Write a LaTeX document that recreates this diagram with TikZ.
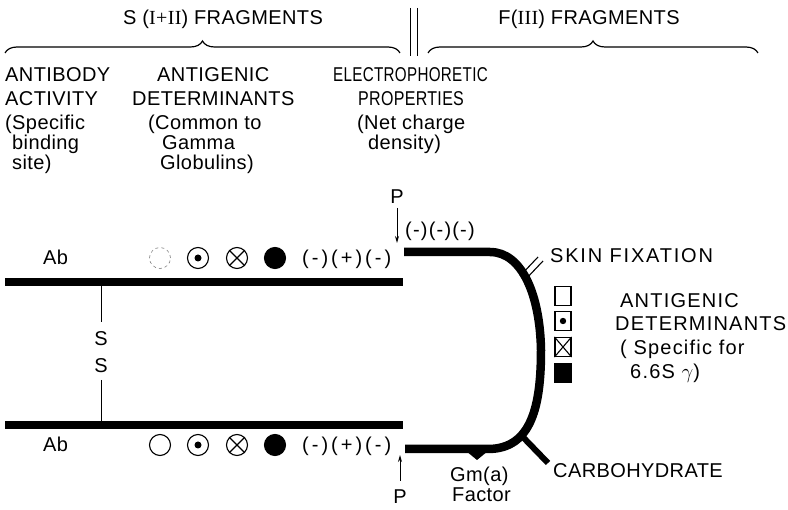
\documentclass[tikz,border=0pt]{standalone}
\usepackage{graphicx}
\usepackage{fontspec}
\setmainfont{Liberation Sans}[LetterSpace=2]
\newfontfamily\romfont{Liberation Serif}[LetterSpace=2]
\usetikzlibrary{decorations.pathreplacing,arrows.meta}
\tikzset{
  lbl/.style={font=\fontsize{20}{22}\selectfont, inner sep=0pt, anchor=base west},
  ttl/.style={font=\fontsize{20}{22}\selectfont, inner sep=0pt, anchor=base},
  chain/.style={line width=8.5pt},
  thinln/.style={line width=1pt},
  ptr/.style={line width=1pt, -{Stealth[length=7pt,width=4pt]}},
  sym/.style={circle, draw, line width=1.1pt, minimum size=21pt, inner sep=0pt},
  sq/.style={rectangle, draw, line width=1.1pt, minimum width=16pt, minimum height=19pt, inner sep=0pt},
  brc/.style={decorate, decoration={brace, amplitude=12pt}, line width=1.2pt},
}
\begin{document}
\begin{tikzpicture}[x=1pt,y=-1pt]
\useasboundingbox (0,0) rectangle (788,510);

% titles and braces
\node[ttl] (t1) at (223,25) {S ({\romfont I+II}) FRAGMENTS};
\node[ttl] (t2) at (589,25) {F({\romfont III}) FRAGMENTS};
\coordinate (b1s) at (5,53); \coordinate (b1e) at (400,53);
\coordinate (b2s) at (428,53); \coordinate (b2e) at (758,53);
\draw[brc] (b1s) -- (b1e);
\draw[brc] (b2s) -- (b2e);
\coordinate (d1a) at (410,8); \coordinate (d1b) at (410,56);
\coordinate (d2a) at (417,8); \coordinate (d2b) at (417,56);
\draw[thinln] (d1a) -- (d1b);
\draw[thinln] (d2a) -- (d2b);

% column headers
\node[lbl] (h1a) at (5,82) {ANTIBODY};
\node[lbl] (h1b) at (5,106) {ACTIVITY};
\node[lbl] (h1c) at (5,130) {(Specific};
\node[lbl] (h1d) at (12,150) {binding};
\node[lbl] (h1e) at (12,170) {site)};

\node[lbl] (h2a) at (157,82) {ANTIGENIC};
\node[lbl] (h2b) at (132,106) {DETERMINANTS};
\node[lbl] (h2c) at (148,130) {(Common to};
\node[lbl] (h2d) at (162,150) {Gamma};
\node[lbl] (h2e) at (160,170) {Globulins)};

\node[lbl] (h3a) at (333,82) {\scalebox{0.76}[1]{ELECTROPHORETIC}};
\node[lbl] (h3b) at (358,106) {\scalebox{0.8}[1]{PROPERTIES}};
\node[lbl] (h3c) at (357,130) {(Net charge};
\node[lbl] (h3d) at (368,150) {density)};

% P markers
\node[ttl] (ptop) at (397,204) {P};
\coordinate (ptopst) at (397,208);
\coordinate (ptopend) at (397,243);
\draw[ptr] (ptopst) -- (ptopend);
\node[ttl] (pbot) at (400,504) {P};
\coordinate (pbotst) at (400,481);
\coordinate (pbotend) at (400,455);
\draw[ptr] (pbotst) -- (pbotend);

% chains
\coordinate (ul) at (5,282); \coordinate (ur) at (403,282);
\coordinate (ll) at (5,425); \coordinate (lr) at (403,425);
\draw[chain] (ul) -- (ur);
\draw[chain] (ll) -- (lr);
\coordinate (ss1) at (101,282); \coordinate (ss2) at (101,322);
\coordinate (ss3) at (101,380); \coordinate (ss4) at (101,425);
\draw[thinln] (ss1) -- (ss2);
\draw[thinln] (ss3) -- (ss4);
\node[ttl] (sa) at (101,346) {S};
\node[ttl] (sb) at (101,373) {S};

% F fragment
\coordinate (fa) at (404,252);
\coordinate (fb) at (405,449);
\draw[line width=8.5pt, line join=round] (fa) -- (490,252)
  .. controls (522,252) and (540,295) .. (541,350)
  .. controls (541,405) and (532,449) .. (488,449) -- (fb);
% Gm(a) bump
\fill (466,451) -- (477,460) -- (488,451) -- cycle;
% carbohydrate
\coordinate (ca1) at (519,433); \coordinate (ca2) at (548,463);
\draw[line width=6pt] (ca1) -- (ca2);
% skin fixation marks
\draw[line width=1.1pt] (520,276) -- (538,257);
\draw[line width=1.1pt] (525,280) -- (543,261);

\node[lbl, font=\fontsize{20}{22}\selectfont\addfontfeature{LetterSpace=6}] (ppp) at (405,237) {(-)(-)(-)};
\node[lbl, font=\fontsize{20}{22}\selectfont\addfontfeature{LetterSpace=9}] (skin) at (550,263) {SKIN FIXATION};
\node[lbl] (gm) at (450,482) {Gm(a)};
\node[lbl] (fac) at (452,502) {Factor};
\node[lbl] (carb) at (553,478) {CARBOHYDRATE};

% top row symbols
\node[lbl] (ab1) at (43,265) {Ab};
\node[sym, dashed, draw=gray, line width=0.6pt] (c1) at (160,258) {};
\node[sym] (c2) at (198,258) {};
\fill (c2) circle (3.5pt);
\node[sym] (c3) at (237,258) {};
\draw[line width=1.1pt] (c3.north west) -- (c3.south east) (c3.north east) -- (c3.south west);
\node[sym, fill] (c4) at (275,258) {};
\node[lbl, font=\fontsize{20}{22}\selectfont\addfontfeature{LetterSpace=15}] (q1) at (302,265) {(-)(+)(-)};

% bottom row symbols
\node[lbl] (ab2) at (43,452) {Ab};
\node[sym] (e1) at (160,445) {};
\node[sym] (e2) at (198,445) {};
\fill (e2) circle (3.5pt);
\node[sym] (e3) at (237,445) {};
\draw[line width=1.1pt] (e3.north west) -- (e3.south east) (e3.north east) -- (e3.south west);
\node[sym, fill] (e4) at (275,445) {};
\node[lbl, font=\fontsize{20}{22}\selectfont\addfontfeature{LetterSpace=15}] (q2) at (302,452) {(-)(+)(-)};

% legend squares
\node[sq] (s1) at (563,296) {};
\node[sq] (s2) at (563,321) {};
\fill (s2) circle (3.2pt);
\node[sq] (s3) at (563,347) {};
\draw[line width=1.1pt] (s3.north west) -- (s3.south east) (s3.north east) -- (s3.south west);
\node[sq, fill] (s4) at (563,373) {};

\tikzset{leg/.style={lbl, font=\fontsize{20}{22}\selectfont\addfontfeature{LetterSpace=6}}}
\node[leg] (l1) at (620,308) {ANTIGENIC};
\node[leg] (l2) at (615,331) {DETERMINANTS};
\node[leg] (l3) at (620,355) {( Specific for};
\node[leg] (l4) at (630,379) {6.6S $\gamma$)};
\end{tikzpicture}
\end{document}
